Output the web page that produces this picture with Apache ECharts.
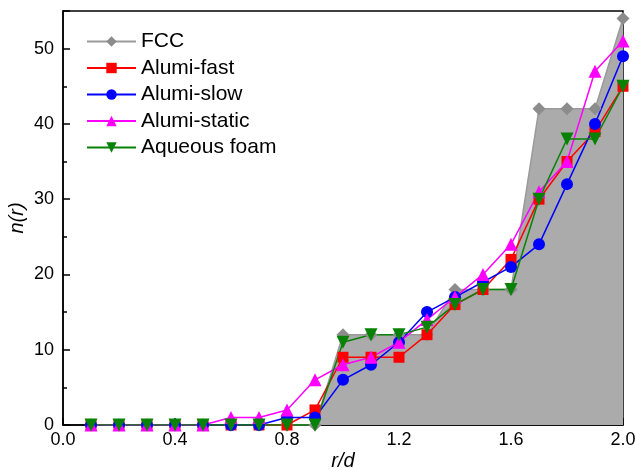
<!DOCTYPE html>
<html>
<head>
<meta charset="utf-8">
<script src="https://cdn.jsdelivr.net/npm/echarts@6/dist/echarts.min.js"></script>
<style>
  html, body { margin: 0; padding: 0; background: #fff; }
  #chart { width: 636px; height: 469px; }
</style>
</head>
<body>
<div id="chart"></div>
<script>
var rd = [0.1, 0.2, 0.3, 0.4, 0.5, 0.6, 0.7, 0.8, 0.9, 1.0, 1.1, 1.2, 1.3, 1.4, 1.5, 1.6, 1.7, 1.8, 1.9, 2.0];
var fcc = [0, 0, 0, 0, 0, 0, 0, 0, 0, 12, 12, 12, 12, 18, 18, 18, 42, 42, 42, 54];
var alumiFast = [0, 0, 0, 0, 0, 0, 0, 0, 2, 9, 9, 9, 12, 16, 18, 22, 30, 35, 39, 45];
var alumiSlow = [0, 0, 0, 0, 0, 0, 0, 1, 1, 6, 8, 11, 15, 17, 19, 21, 24, 32, 40, 49];
var alumiStatic = [0, 0, 0, 0, 0, 1, 1, 2, 6, 8, 9, 11, 14, 17, 20, 24, 31, 35, 47, 51];
var aqueousFoam = [0, 0, 0, 0, 0, 0, 0, 0, 0, 11, 12, 12, 13, 16, 18, 18, 30, 38, 38, 45];
var xTicks = [0.0, 0.4, 0.8, 1.2, 1.6, 2.0];
var yTicks = [0, 10, 20, 30, 40, 50];

var font = 'Liberation Sans, Arial, sans-serif';

function pairs(ys) {
    var out = [];
    for (var i = 0; i < rd.length; i++) {
        out.push([rd[i], ys[i]]);
    }
    return out;
}

function lineSeries(name, data, color, symbol, size, rotate) {
    return {
        name: name,
        type: 'line',
        data: pairs(data),
        symbol: symbol,
        symbolSize: size,
        symbolRotate: rotate || 0,
        lineStyle: { color: color, width: 1.5 },
        itemStyle: { color: color },
        animation: false
    };
}

var fccSeries = lineSeries('FCC', fcc, '#8c8c8c', 'diamond', 13);
fccSeries.lineStyle.color = '#9a9a9a';
fccSeries.areaStyle = { color: '#ababab', opacity: 1, origin: 'start' };

var option = {
    backgroundColor: '#fff',
    textStyle: { fontFamily: font, color: '#000' },
    grid: {
        left: 63, right: 13, top: 11, bottom: 44,
        outerBoundsMode: 'none', containLabel: false,
        show: true, borderColor: '#000', borderWidth: 1.5, backgroundColor: 'transparent'
    },
    legend: {
        orient: 'vertical',
        left: 81, top: 26,
        itemWidth: 49, itemHeight: 13,
        itemGap: 5.5,
        textStyle: { fontFamily: font, fontSize: 21, color: '#000', lineHeight: 21 },
        data: ['FCC', 'Alumi-fast', 'Alumi-slow', 'Alumi-static', 'Aqueous foam']
    },
    xAxis: {
        type: 'value',
        min: xTicks[0], max: xTicks[xTicks.length - 1], interval: 0.4,
        name: 'r/d',
        nameLocation: 'middle', nameGap: 26,
        nameMoveOverlap: false,
        nameTextStyle: { fontFamily: font, fontSize: 20, fontStyle: 'italic', color: '#000' },
        axisLine: { lineStyle: { color: '#000', width: 1.5 } },
        axisTick: { inside: true, length: 7, lineStyle: { color: '#000', width: 1.5 } },
        minorTick: { show: true, splitNumber: 2, length: 4, lineStyle: { color: '#000', width: 1.5 } },
        axisLabel: {
            fontFamily: font, fontSize: 18, color: '#000', margin: 6,
            formatter: function (v) { return v.toFixed(1); }
        },
        splitLine: { show: false }
    },
    yAxis: {
        type: 'value',
        min: yTicks[0], max: 55, interval: 10,
        name: 'n(r)',
        nameLocation: 'middle', nameGap: 36,
        nameMoveOverlap: false,
        nameTextStyle: { fontFamily: font, fontSize: 20, fontStyle: 'italic', color: '#000' },
        axisLine: { lineStyle: { color: '#000', width: 1.5 } },
        axisTick: { inside: true, length: 7, lineStyle: { color: '#000', width: 1.5 } },
        minorTick: { show: true, splitNumber: 2, length: 4, lineStyle: { color: '#000', width: 1.5 } },
        axisLabel: {
            fontFamily: font, fontSize: 18, color: '#000', margin: 9,
            showMaxLabel: false,
            formatter: function (v) { return yTicks.indexOf(v) >= 0 ? String(v) : ''; }
        },
        splitLine: { show: false }
    },
    series: [
        fccSeries,
        lineSeries('Alumi-fast', alumiFast, '#ff0000', 'rect', 11),
        lineSeries('Alumi-slow', alumiSlow, '#0000ff', 'circle', 12),
        lineSeries('Alumi-static', alumiStatic, '#ff00ff', 'triangle', 13),
        lineSeries('Aqueous foam', aqueousFoam, '#078207', 'triangle', 13, 180)
    ]
};

var myChart = echarts.init(document.getElementById('chart'));
myChart.setOption(option);
</script>
</body>
</html>
